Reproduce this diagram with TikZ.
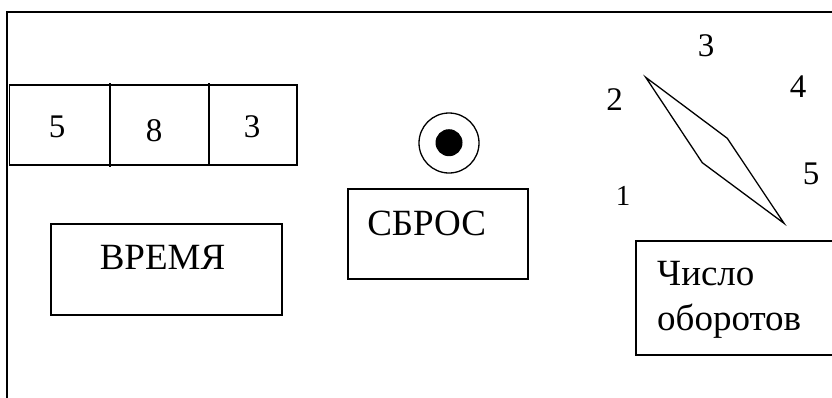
\documentclass[tikz,border=0pt]{standalone}
\usepackage{fontspec}
\setmainfont{Liberation Serif}
\usepackage{tikz}
\usetikzlibrary{scopes}

\tikzset{
  frame/.style={line width=1.8pt},
  panel/.style={line width=1.3pt},
  word/.style={font=\fontsize{37}{40}\selectfont, inner sep=0pt},
  digit/.style={font=\fontsize{33}{36}\selectfont, inner sep=0pt}
}

\begin{document}
\begin{tikzpicture}[x=1pt, y=-1pt]
\clip (0,0) rectangle (832,397);
\useasboundingbox (0,0) rectangle (832,397);
% outer frame
\draw[frame] (6.7,400) -- (6.7,12) -- (840,12);
% counter window
\draw[panel] (9.5,85) rectangle (297,165);
\draw[panel] (110,83) -- (110,167);
\draw[panel] (209,83) -- (209,164);
\foreach \d/\x/\y in {5/57/127, 8/154/130.5, 3/252/127}
     		\node[digit] (cnt\d) at (\x,\y) {\d};
% time box
\draw[panel] (51,224) rectangle (282,315);
\node[word] (vremya) at (162.5,257) {ВРЕМЯ};
% reset button
\draw[panel] (449,143) circle [radius=30];
\fill (449,142.7) circle [radius=13.5];
\draw[panel] (348,189) rectangle (528,279);
\node[word] (sbros) at (426.7,223.7) {СБРОС};
% dial
\foreach \n/\x/\y in {2/614.7/99.5, 3/706/45.5, 4/798/86.7, 5/811/173.7}
     		\node[digit] (dial\n) at (\x,\y) {\n};
\node[digit, font=\fontsize{29}{32}\selectfont] (dial1) at (623,196) {1};
\draw[panel, line join=miter] (645.7,77.3) -- (727.3,138.3) -- (784,223.3) -- (702.3,162.7) -- cycle;
% revolutions box
\draw[panel] (636,241) rectangle (840,355);
\node[word, anchor=base west] (chislo) at (657,285) {Число};
\node[word, anchor=base west] (oborotov) at (657,330) {оборотов};
\end{tikzpicture}
\end{document}
